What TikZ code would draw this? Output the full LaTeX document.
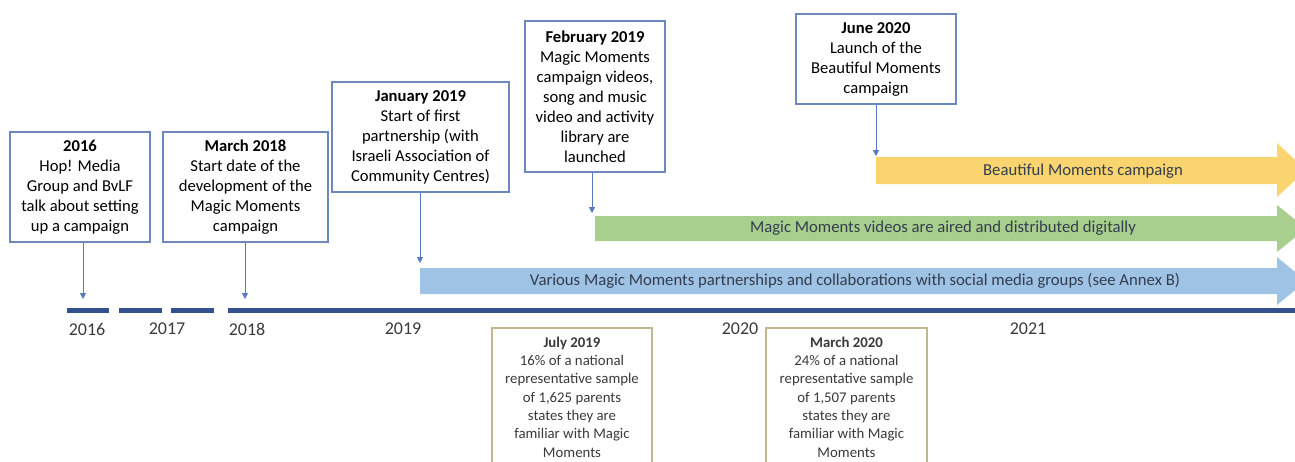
\documentclass[tikz,border=0pt]{standalone}
\usepackage{fontspec}
\setmainfont{Carlito}
\usetikzlibrary{arrows.meta}

\definecolor{boxblue}{HTML}{6F87BF}
\definecolor{linkblue}{HTML}{5679C0}
\definecolor{boxkhaki}{HTML}{BDB68F}
\definecolor{axisblue}{HTML}{34508F}
\definecolor{bandyellow}{HTML}{FAD46E}
\definecolor{bandgreen}{HTML}{A8CF8E}
\definecolor{bandblue}{HTML}{9EC3E5}
\definecolor{txtgray}{HTML}{3A3A3A}
\definecolor{bandtxt}{HTML}{333D4E}

\begin{document}
\begin{tikzpicture}[x=1pt, y=-1pt, >={Triangle[width=6pt,length=6pt]},
	topbox/.style={draw=boxblue, line width=1.1pt, fill=white, align=center, inner sep=0pt, text=black, font=\fontsize{16.6}{20}\selectfont},
	lowbox/.style={draw=boxkhaki, line width=1.1pt, fill=white, align=center, inner sep=0pt, text=txtgray, font=\fontsize{14.8}{18.3}\selectfont},
	link/.style={->, linkblue, line width=0.8pt},
	band/.style={font=\fontsize{16.7}{18}\selectfont, text=bandtxt},
	year/.style={font=\fontsize{18}{20}\selectfont, text=txtgray}]

	\useasboundingbox (0,0) rectangle (1295,461);
	\clip (0,0) rectangle (1295,461);

	% Bands
	\fill[bandblue] (420,268) -- (1277,268) -- (1277,257) -- (1306,281) -- (1277,305) -- (1277,294) -- (420,294) -- cycle;
	\fill[bandgreen] (595,216) -- (1277,216) -- (1277,205) -- (1306,228.5) -- (1277,252) -- (1277,241) -- (595,241) -- cycle;
	\fill[bandyellow] (876,157) -- (1277,157) -- (1277,143) -- (1306,170) -- (1277,197) -- (1277,184) -- (876,184) -- cycle;
	\node[band] (lblue) at (855,281) {Various Magic Moments partnerships and collaborations with social media groups (see Annex B)};
	\node[band] (lgreen) at (943,228.5) {Magic Moments videos are aired and distributed digitally};
	\node[band] (lyellow) at (1083,171) {Beautiful Moments campaign};

	% Timeline
	\foreach \a/\b in {67/109, 119/162, 171/214, 228/1300}
		\draw[axisblue, line width=5pt] (\a,310.5) -- (\b,310.5);
	\foreach \yr/\x in {2016/87, 2017/167, 2018/247, 2019/403, 2020/740, 2021/1028}
		\node[year] (y\yr) at (\x,329) {\yr};

	% Events above the timeline
	\node[topbox, minimum width=140, minimum height=110] (b2016) at (80,187)
		{\textbf{2016}\\Hop! Media\\Group and BvLF\\talk about setting\\up a campaign};
	\node[topbox, minimum width=165, minimum height=110] (bmar18) at (245.5,187)
		{\textbf{March 2018}\\Start date of the\\development of the\\Magic Moments\\campaign};
	\node[topbox, minimum width=177, minimum height=110] (bjan19) at (420.5,137)
		{\textbf{January 2019}\\Start of first\\partnership (with\\Israeli Association of\\Community Centres)};
	\node[topbox, minimum width=140, minimum height=151] (bfeb19) at (595,96.5)
		{\textbf{February 2019}\\Magic Moments\\campaign videos,\\song and music\\video and activity\\library are\\launched};
	\node[topbox, minimum width=160, minimum height=90] (bjun20) at (876,59)
		{\textbf{June 2020}\\Launch of the\\Beautiful Moments\\campaign};

	% Arrow ends
	\coordinate (e2016) at (83,299);
	\coordinate (emar18) at (245,299);
	\coordinate (ejan19) at (420,263);
	\coordinate (efeb19) at (592,213);
	\coordinate (ejun20) at (876,156);
	\draw[link] (b2016.south -| e2016) -- (e2016);
	\draw[link] (bmar18.south -| emar18) -- (emar18);
	\draw[link] (bjan19.south -| ejan19) -- (ejan19);
	\draw[link] (bfeb19.south -| efeb19) -- (efeb19);
	\draw[link] (bjun20.south -| ejun20) -- (ejun20);

	% Survey results below the timeline
	\node[lowbox, minimum width=160, minimum height=138] (bjul19) at (572,397)
		{\textbf{July 2019}\\16\% of a national\\representative sample\\of 1,625 parents\\states they are\\familiar with Magic\\Moments};
	\node[lowbox, minimum width=161, minimum height=138] (bmar20) at (846.5,397)
		{\textbf{March 2020}\\24\% of a national\\representative sample\\of 1,507 parents\\states they are\\familiar with Magic\\Moments};

\end{tikzpicture}
\end{document}
